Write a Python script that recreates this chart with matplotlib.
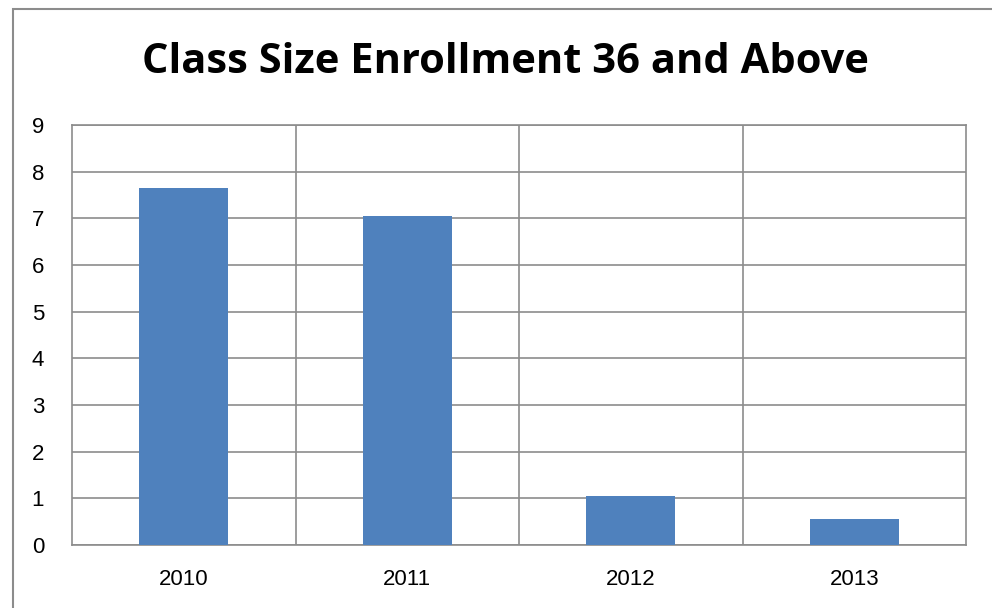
import matplotlib.pyplot as plt
from matplotlib.patches import Rectangle

years = ["2010", "2011", "2012", "2013"]
counts = [7.65, 7.05, 1.05, 0.55]
y_ticks = list(range(0, 10))

fig = plt.figure(figsize=(9.92, 6.08), dpi=100)

# outer chart border (runs off the right and bottom edges)
fig.patches.append(Rectangle((13 / 992, -0.05), 1.1, 1 - 9 / 608 + 0.05,
                             transform=fig.transFigure, fill=False,
                             edgecolor="#8c8c8c", linewidth=1.5))

ax = fig.add_axes([72 / 992, 63 / 608, 894 / 992, 420 / 608])
x = range(len(years))
ax.bar(x, counts, width=0.4, color="#4F81BD", zorder=3)

ax.set_xlim(-0.5, len(years) - 0.5)
ax.set_ylim(0, 9)
ax.set_yticks(y_ticks)
ax.set_xticks(x)
ax.set_xticklabels(years)
ax.set_xticks([i + 0.5 for i in range(len(years) - 1)], minor=True)

ax.grid(axis="y", which="major", color="#8c8c8c", linewidth=1.2, zorder=0)
ax.grid(axis="x", which="minor", color="#8c8c8c", linewidth=1.2, zorder=0)
ax.grid(axis="x", which="major", visible=False)
for s in ax.spines.values():
    s.set_color("#8c8c8c")
    s.set_linewidth(1.2)

ax.tick_params(axis="both", which="both", length=0, labelsize=16)
ax.tick_params(axis="x", pad=17)
ax.tick_params(axis="y", pad=20)
for lbl in ax.get_xticklabels() + ax.get_yticklabels():
    lbl.set_fontfamily("Liberation Sans")

fig.text(505 / 992, 1 - 73 / 608, "Class Size Enrollment 36 and Above",
         ha="center", va="baseline", fontsize=30, fontweight="bold",
         fontfamily="Open Sans")

fig.savefig("out.png", dpi=100)
